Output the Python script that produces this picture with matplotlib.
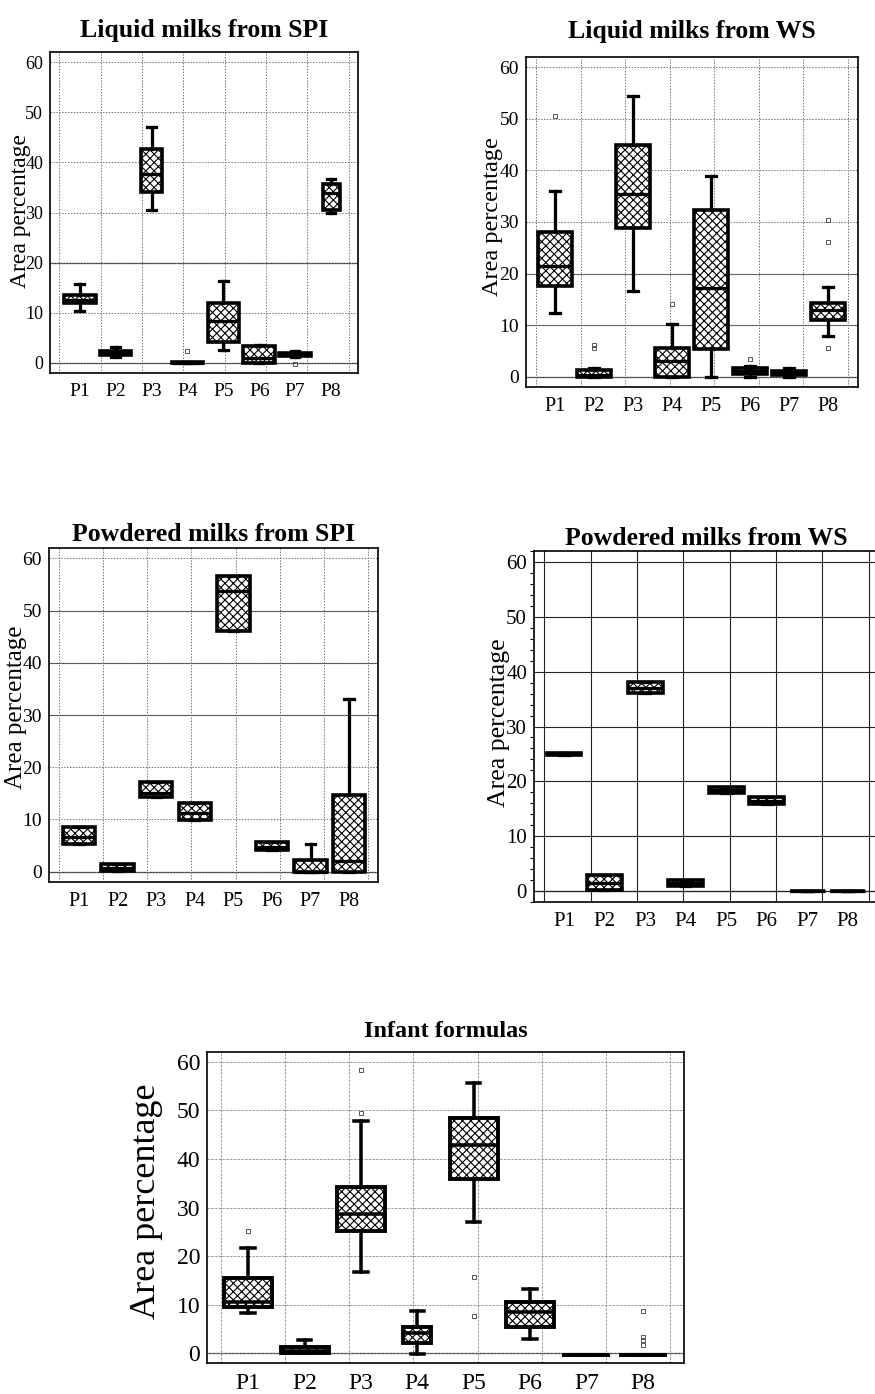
import numpy as np
import matplotlib
matplotlib.use("Agg")
import matplotlib.pyplot as plt
from matplotlib.ticker import FixedLocator, MultipleLocator

plt.rcParams['font.family'] = ['Liberation Serif', 'DejaVu Serif']
plt.rcParams['hatch.linewidth'] = 0.8
plt.rcParams['hatch.color'] = 'black'

categories = ['P1', 'P2', 'P3', 'P4', 'P5', 'P6', 'P7', 'P8']
yticks = [0, 10, 20, 30, 40, 50, 60]

# ---------- Liquid milks from SPI ----------
liq_spi_whislo = [10.3, 1.2, 30.4, 0.0, 2.5, 0.0, 1.2, 29.9]
liq_spi_q1     = [11.9, 1.5, 34.1, 0.0, 4.2, 0.0, 1.3, 30.5]
liq_spi_med    = [12.6, 1.9, 37.7, 0.0, 8.3, 1.0, 1.7, 33.9]
liq_spi_q3     = [13.6, 2.3, 42.6, 0.1, 12.0, 3.3, 2.0, 35.7]
liq_spi_whishi = [15.8, 3.1, 47.1, 0.1, 16.3, 3.5, 2.3, 36.7]
liq_spi_fliers = [[], [], [], [2.3], [], [], [-0.2], []]

# ---------- Liquid milks from WS ----------
liq_ws_whislo = [12.3, 0.0, 16.6, 0.0, 0.0, 0.0, 0.0, 7.8]
liq_ws_q1     = [17.5, 0.0, 28.8, 0.0, 5.4, 0.6, 0.3, 11.0]
liq_ws_med    = [21.4, 0.4, 35.4, 3.1, 17.2, 1.2, 0.8, 12.9]
liq_ws_q3     = [28.0, 1.3, 45.0, 5.6, 32.4, 1.7, 1.2, 14.2]
liq_ws_whishi = [36.1, 1.7, 54.4, 10.2, 39.0, 2.1, 1.6, 17.3]
liq_ws_fliers = [[50.5], [5.5, 6.1], [], [14.1], [], [3.4], [], [5.6, 26.1, 30.3]]

# ---------- Powdered milks from SPI ----------
pow_spi_whislo = [5.3, 0.1, 14.2, 9.9, 46.0, 4.2, 0.0, 0.0]
pow_spi_q1     = [5.3, 0.1, 14.2, 9.9, 46.0, 4.2, 0.0, 0.0]
pow_spi_med    = [6.6, 0.7, 15.1, 11.2, 53.8, 4.8, 0.0, 2.1]
pow_spi_q3     = [8.5, 1.5, 17.1, 13.1, 56.7, 5.7, 2.2, 14.7]
pow_spi_whishi = [8.5, 1.5, 17.1, 13.1, 56.7, 5.7, 5.3, 33.1]
pow_spi_fliers = [[], [], [], [], [], [], [], []]

# ---------- Powdered milks from WS ----------
pow_ws_whislo = [24.8, 0.2, 36.1, 0.9, 17.9, 15.9, 0.0, 0.0]
pow_ws_q1     = [24.8, 0.2, 36.1, 0.9, 17.9, 15.9, 0.0, 0.0]
pow_ws_med    = [25.0, 1.5, 37.0, 1.5, 18.5, 16.5, 0.0, 0.0]
pow_ws_q3     = [25.2, 3.0, 38.2, 2.1, 19.0, 17.1, 0.0, 0.0]
pow_ws_whishi = [25.2, 3.0, 38.2, 2.1, 19.0, 17.1, 0.0, 0.0]
pow_ws_fliers = [[], [], [], [], [], [], [], []]

# ---------- Infant formulas ----------
inf_whislo = [8.2, 0.0, 16.8, -0.1, 27.0, 2.9, -0.3, -0.3]
inf_q1     = [9.5, 0.0, 25.2, 2.1, 35.8, 5.5, -0.3, -0.3]
inf_med    = [10.5, 0.5, 28.7, 4.1, 42.9, 8.4, -0.3, -0.3]
inf_q3     = [15.4, 1.2, 34.3, 5.5, 48.4, 10.6, -0.3, -0.3]
inf_whishi = [21.7, 2.7, 47.7, 8.7, 55.7, 13.2, -0.3, -0.3]
inf_fliers = [[25.2], [], [49.4, 58.3], [], [7.7, 15.8], [], [], [1.7, 2.7, 3.4, 8.6]]


def make_stats(whislo, q1, med, q3, whishi, fliers):
    return [dict(whislo=a, q1=b, med=c, q3=d, whishi=e, fliers=f, label=lab)
            for a, b, c, d, e, f, lab in zip(whislo, q1, med, q3, whishi, fliers, categories)]


fig = plt.figure(figsize=(8.75, 13.94), dpi=100)
W, H = 875.0, 1394.0


def px_axes(left, top, right, bottom):
    return fig.add_axes([left / W, (H - bottom) / H, (right - left) / W, (bottom - top) / H])


def draw_panel(ax, stats, title, widths, xlim, title_pad, ylab_xy, tick_fs, xtick_fs,
               ylab_fs, title_fs, grid_style, lw=2.6):
    pos = np.arange(1, len(categories) + 1)
    ax.bxp(stats, positions=pos, widths=widths, patch_artist=True,
           capwidths=0.24,
           boxprops=dict(facecolor='white', edgecolor='black', linewidth=lw, hatch='xxxx'),
           medianprops=dict(color='black', linewidth=lw * 0.9),
           whiskerprops=dict(color='black', linewidth=lw * 0.9),
           capprops=dict(color='black', linewidth=lw * 0.9),
           flierprops=dict(marker='s', markersize=3.5, markerfacecolor='none',
                           markeredgecolor='#555555', markeredgewidth=0.7))
    ax.set_xlim(*xlim)
    ax.set_ylim(-2, 62)
    ax.set_yticks(yticks)
    ax.set_xticks(pos)
    ax.set_xticklabels(categories, fontsize=xtick_fs)
    ax.tick_params(axis='y', labelsize=tick_fs, length=0, pad=5)
    ax.tick_params(axis='x', length=0, pad=7)
    # vertical grid lines at evenly spaced positions across the frame
    gx = xlim[0] + (xlim[1] - xlim[0]) * np.linspace(0.03, 0.97, 8)
    ax.xaxis.set_minor_locator(FixedLocator(gx))
    ax.tick_params(axis='x', which='minor', length=0)
    ax.set_axisbelow(True)
    ax.grid(True, which='minor', axis='x', **grid_style)
    ax.grid(True, which='major', axis='y', **grid_style)
    ax.grid(False, which='major', axis='x')
    ax.axhline(0, color='#333333', linewidth=0.9, zorder=0.5)
    for s in ax.spines.values():
        s.set_linewidth(1.2)
    ax.set_title(title, fontsize=title_fs, fontweight='bold', pad=title_pad)
    ax.set_ylabel('Area percentage', fontsize=ylab_fs)
    ax.yaxis.label.set_verticalalignment('center')
    ax.yaxis.set_label_coords(*ylab_xy)


dotted = dict(color='#777777', linestyle=(0, (1.5, 1.5)), linewidth=0.7)

ax1 = px_axes(50, 52, 358, 373)
draw_panel(ax1, make_stats(liq_spi_whislo, liq_spi_q1, liq_spi_med, liq_spi_q3, liq_spi_whishi, liq_spi_fliers),
           'Liquid milks from SPI', [0.88, 0.88, 0.6, 0.88, 0.88, 0.88, 0.88, 0.47],
           (0.17, 8.75), 11, (-0.097, 0.505), 13, 14, 17, 18.5, dotted)
ax1.axhline(20, color='#333333', linewidth=0.9, zorder=0.5)

ax2 = px_axes(526, 57, 858, 387)
draw_panel(ax2, make_stats(liq_ws_whislo, liq_ws_q1, liq_ws_med, liq_ws_q3, liq_ws_whishi, liq_ws_fliers),
           'Liquid milks from WS', 0.87, (0.26, 8.77), 14, (-0.102, 0.515), 14, 14.5, 17.5, 18.5, dotted)
ax2.axhline(20, color='#555555', linewidth=0.8, zorder=0.5)
ax2.axhline(10, color='#555555', linewidth=0.8, zorder=0.5)

ax3 = px_axes(49, 548, 378, 882)
draw_panel(ax3, make_stats(pow_spi_whislo, pow_spi_q1, pow_spi_med, pow_spi_q3, pow_spi_whishi, pow_spi_fliers),
           'Powdered milks from SPI', 0.84, (0.22, 8.75), 5, (-0.10, 0.524), 14, 14.5, 18, 18.5,
           dict(color='#777777', linestyle=(0, (1.5, 1.5)), linewidth=0.7))
for yv in (30, 40, 50):
    ax3.axhline(yv, color='#444444', linewidth=0.8, zorder=0.5)

ax4 = px_axes(534, 551, 879, 902)
draw_panel(ax4, make_stats(pow_ws_whislo, pow_ws_q1, pow_ws_med, pow_ws_q3, pow_ws_whishi, pow_ws_fliers),
           'Powdered milks from WS', 0.86, (0.26, 8.77), 4.5, (-0.10, 0.51), 15, 15, 18.5, 18.5,
           dict(color='#222222', linestyle='-', linewidth=0.8))
ax4.yaxis.set_minor_locator(MultipleLocator(2))
ax4.tick_params(axis='y', which='minor', length=3, width=0.8, left=True, right=True)
ax4.tick_params(axis='y', which='major', right=True)

ax5 = px_axes(207, 1052, 684, 1363)
draw_panel(ax5, make_stats(inf_whislo, inf_q1, inf_med, inf_q3, inf_whishi, inf_fliers),
           'Infant formulas', [0.85, 0.85, 0.85, 0.5, 0.85, 0.85, 0.85, 0.85],
           (0.27, 8.73), 11, (-0.126, 0.52), 17, 17, 26, 17.5,
           dict(color='#888888', linestyle=(0, (3, 1.5)), linewidth=0.6), lw=2.8)

fig.savefig('out.png', dpi=100, facecolor='white')
